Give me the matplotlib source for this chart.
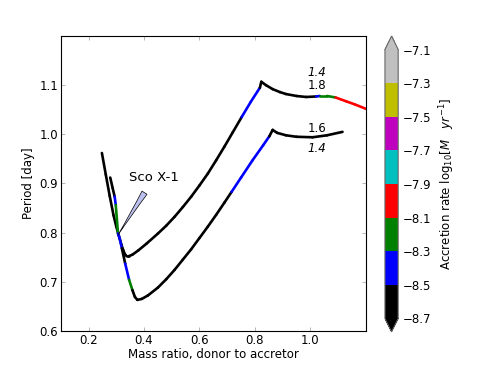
import numpy as np
import matplotlib
matplotlib.use("Agg")
import matplotlib.pyplot as plt
from matplotlib.collections import LineCollection
from matplotlib.colors import ListedColormap, BoundaryNorm
from matplotlib.cm import ScalarMappable

# colour levels of log10 accretion rate
levels = [-8.7, -8.5, -8.3, -8.1, -7.9, -7.7, -7.5, -7.3, -7.1]
level_colors = ["k", "b", "g", "r", "c", "m", "y", "silver"]

# upper track (q, P, log Mdot of segment starting at the point)
upper_q = [0.248, 0.262, 0.276, 0.290, 0.300, 0.309, 0.318, 0.325, 0.331, 0.337,
           0.345, 0.358, 0.380, 0.410, 0.450, 0.480, 0.510, 0.540, 0.570, 0.600,
           0.630, 0.660, 0.690, 0.720, 0.752, 0.785, 0.818, 0.823, 0.840, 0.864,
           0.890, 0.912, 0.950, 0.985, 1.021, 1.034, 1.060, 1.091, 1.130, 1.160, 1.200]
upper_P = [0.962, 0.918, 0.875, 0.835, 0.812, 0.794, 0.776, 0.764, 0.756, 0.752,
           0.752, 0.755, 0.764, 0.778, 0.798, 0.814, 0.832, 0.852, 0.873, 0.896,
           0.920, 0.947, 0.975, 1.004, 1.035, 1.066, 1.095, 1.107, 1.100, 1.092,
           1.086, 1.082, 1.078, 1.076, 1.077, 1.078, 1.078, 1.075, 1.067, 1.061, 1.052]
upper_mdot = [-8.6] * 24 + [-8.4, -8.4] + [-8.6] * 8 + [-8.4, -8.2, -8.2] + [-8.0] * 4

# lower track
lower_q = [0.278, 0.287, 0.294, 0.298, 0.302, 0.306, 0.312, 0.320, 0.332, 0.346,
           0.358, 0.367, 0.376, 0.392, 0.414, 0.450, 0.480, 0.510, 0.540, 0.570,
           0.600, 0.630, 0.660, 0.690, 0.716, 0.750, 0.790, 0.830, 0.852, 0.864,
           0.880, 0.912, 0.950, 1.008, 1.060, 1.116]
lower_P = [0.912, 0.890, 0.873, 0.856, 0.827, 0.798, 0.788, 0.768, 0.737, 0.704,
           0.683, 0.669, 0.663, 0.665, 0.672, 0.688, 0.705, 0.724, 0.745, 0.766,
           0.789, 0.812, 0.836, 0.861, 0.883, 0.912, 0.946, 0.978, 0.996, 1.009,
           1.003, 0.998, 0.995, 0.994, 0.998, 1.005]
lower_mdot = ([-8.6, -8.6, -8.4, -8.2, -8.2, -8.4, -8.4, -8.6, -8.4, -8.2, -8.6, -8.6]
              + [-8.6] * 12 + [-8.4] * 4 + [-8.6] * 8)

xticks = [0.2, 0.4, 0.6, 0.8, 1.0]
yticks = [0.6, 0.7, 0.8, 0.9, 1.0, 1.1]

cmap = ListedColormap(level_colors).with_extremes(under="k", over="silver")
norm = BoundaryNorm(levels, cmap.N)

fig = plt.figure(figsize=(4.91, 3.68), dpi=100)
ax = fig.add_axes([0.124, 0.101, 0.621, 0.801])

for q, P, md in [(upper_q, upper_P, upper_mdot), (lower_q, lower_P, lower_mdot)]:
    pts = np.column_stack([q, P]).reshape(-1, 1, 2)
    segs = np.concatenate([pts[:-1], pts[1:]], axis=1)
    lc = LineCollection(segs, cmap=cmap, norm=norm, linewidths=1.9,
                        capstyle="round", joinstyle="round")
    lc.set_array(np.array(md[:-1]))
    ax.add_collection(lc)

ax.annotate("Sco X-1", xy=(0.306, 0.795), xytext=(0.436, 0.912),
            ha="center", va="center", fontsize=9.5,
            arrowprops=dict(arrowstyle="wedge,tail_width=0.45,shrink_factor=0.4",
                            fc="#bcc0ee", ec="k", lw=0.5, shrinkA=5, shrinkB=0))

ax.text(1.025, 1.126, "1.4", ha="center", va="center", fontsize=8.5, style="italic")
ax.text(1.025, 1.100, "1.8", ha="center", va="center", fontsize=8.5)
ax.text(1.025, 1.012, "1.6", ha="center", va="center", fontsize=8.5)
ax.text(1.025, 0.972, "1.4", ha="center", va="center", fontsize=8.5, style="italic")

ax.set_xlim(0.1, 1.2)
ax.set_ylim(0.6, 1.2)
ax.set_xticks(xticks)
ax.set_yticks(yticks)
ax.tick_params(direction="in", top=True, right=True, length=3, width=0.5,
               labelsize=8.5, color="0.6", pad=2)
ax.set_xlabel("Mass ratio, donor to accretor", fontsize=8.5, labelpad=1)
ax.set_ylabel("Period [day]", fontsize=8.5, labelpad=3)

cax = fig.add_axes([0.784, 0.098, 0.027, 0.804])
cb = fig.colorbar(ScalarMappable(norm=norm, cmap=cmap), cax=cax,
                  extend="both", ticks=levels)
cb.ax.tick_params(labelsize=8.5, length=0)
cb.set_label(r"Accretion rate log$_{10}[M\ \ \ yr^{-1}]$", fontsize=8.5)
cb.outline.set_edgecolor("0.4")

fig.savefig("out.png", dpi=100)
